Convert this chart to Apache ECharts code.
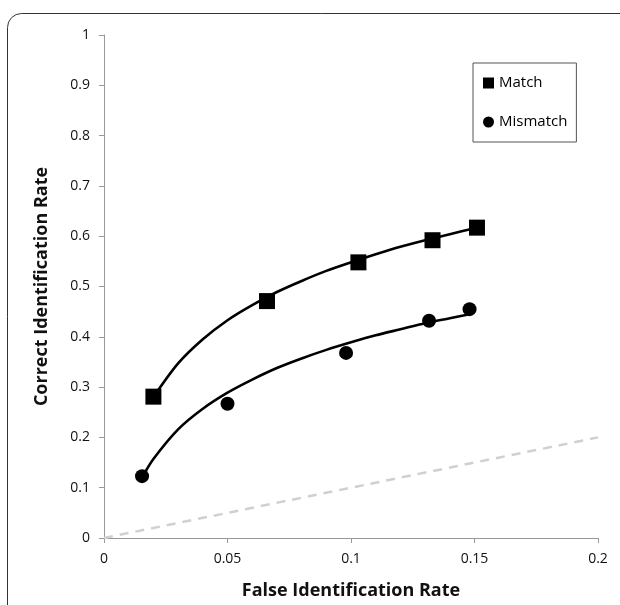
<!DOCTYPE html>
<html>
<head>
<meta charset="utf-8">
<script src="https://cdn.jsdelivr.net/npm/echarts@6/dist/echarts.min.js"></script>
<style>
  html, body { margin: 0; padding: 0; background: #fff; }
  #chart { width: 620px; height: 605px; }
</style>
</head>
<body>
<div id="chart"></div>
<script>
// measured points
let matchPoints = [[0.020, 0.281], [0.066, 0.471], [0.103, 0.548], [0.133, 0.592], [0.151, 0.617]];
let mismatchPoints = [[0.0154, 0.123], [0.050, 0.267], [0.098, 0.368], [0.1316, 0.432], [0.148, 0.455]];
// trend curves
let matchTrend = [[0.020, 0.280], [0.030, 0.347], [0.040, 0.395], [0.050, 0.433], [0.060, 0.463], [0.070, 0.489],
  [0.080, 0.511], [0.090, 0.531], [0.100, 0.548], [0.110, 0.564], [0.120, 0.579], [0.130, 0.592], [0.140, 0.604], [0.151, 0.617]];
let mismatchTrend = [[0.0154, 0.120], [0.020, 0.157], [0.030, 0.216], [0.040, 0.257], [0.050, 0.289], [0.060, 0.315],
  [0.070, 0.338], [0.080, 0.357], [0.090, 0.374], [0.100, 0.389], [0.110, 0.403], [0.120, 0.415], [0.130, 0.427], [0.140, 0.437], [0.148, 0.445]];
let chanceLine = [[0, 0], [0.2, 0.2]];

let fontFam = '"Open Sans", sans-serif';

let myChart = echarts.init(document.getElementById('chart'));

let options = {
  animation: false,
  textStyle: { fontFamily: fontFam },
  graphic: [{
    type: 'rect',
    shape: { x: 7.5, y: 13.5, width: 700, height: 700, r: 14 },
    style: { fill: 'none', stroke: '#333', lineWidth: 1 },
    z: -1
  }],
  grid: {
    left: 104,
    right: 22,
    top: 35,
    bottom: 65
  },
  legend: {
    orient: 'vertical',
    left: 473,
    top: 63,
    data: ['Match', 'Mismatch'],
    itemWidth: 11,
    itemHeight: 11,
    itemGap: 23,
    itemTextGap: 4,
    padding: [12, 9, 12, 10],
    borderColor: '#555',
    borderWidth: 1,
    textStyle: { fontSize: 15, lineHeight: 16, color: '#000', fontFamily: fontFam }
  },
  xAxis: {
    type: 'value',
    min: 0,
    max: 0.2,
    interval: 0.05,
    name: 'False Identification Rate',
    nameLocation: 'middle',
    nameGap: 44,
    nameTextStyle: { fontSize: 18, fontWeight: 'bold', color: '#111', fontFamily: fontFam },
    axisLine: { lineStyle: { color: '#999' } },
    axisTick: { show: true, length: 5, lineStyle: { color: '#999' } },
    axisLabel: { fontSize: 14, color: '#111', margin: 14 },
    splitLine: { show: false }
  },
  yAxis: {
    type: 'value',
    min: 0,
    max: 1,
    interval: 0.1,
    name: 'Correct Identification Rate',
    nameLocation: 'middle',
    nameGap: 53,
    nameTextStyle: { fontSize: 18, fontWeight: 'bold', color: '#111', fontFamily: fontFam },
    axisLine: { show: true, lineStyle: { color: '#999' } },
    axisTick: { show: true, length: 5, lineStyle: { color: '#999' } },
    axisLabel: {
      fontSize: 14,
      color: '#111',
      margin: 14,
      formatter: function(v){ return String(Math.round(v * 10) / 10); }
    },
    splitLine: { show: false }
  },
  series: [
    {
      name: 'chance',
      type: 'line',
      data: chanceLine,
      symbol: 'none',
      silent: true,
      lineStyle: { color: '#d0d0d0', width: 2.5, type: [9, 7] }
    },
    {
      name: 'Match trend',
      type: 'line',
      data: matchTrend,
      smooth: 0.3,
      symbol: 'none',
      silent: true,
      lineStyle: { color: '#000', width: 2.6 }
    },
    {
      name: 'Mismatch trend',
      type: 'line',
      data: mismatchTrend,
      smooth: 0.3,
      symbol: 'none',
      silent: true,
      lineStyle: { color: '#000', width: 2.6 }
    },
    {
      name: 'Match',
      type: 'scatter',
      data: matchPoints,
      symbol: 'rect',
      symbolSize: 16,
      itemStyle: { color: '#000', opacity: 1 },
      z: 5
    },
    {
      name: 'Mismatch',
      type: 'scatter',
      data: mismatchPoints,
      symbol: 'circle',
      symbolSize: 14,
      itemStyle: { color: '#000', opacity: 1 },
      z: 5
    }
  ]
};

myChart.setOption(options);
</script>
</body>
</html>
